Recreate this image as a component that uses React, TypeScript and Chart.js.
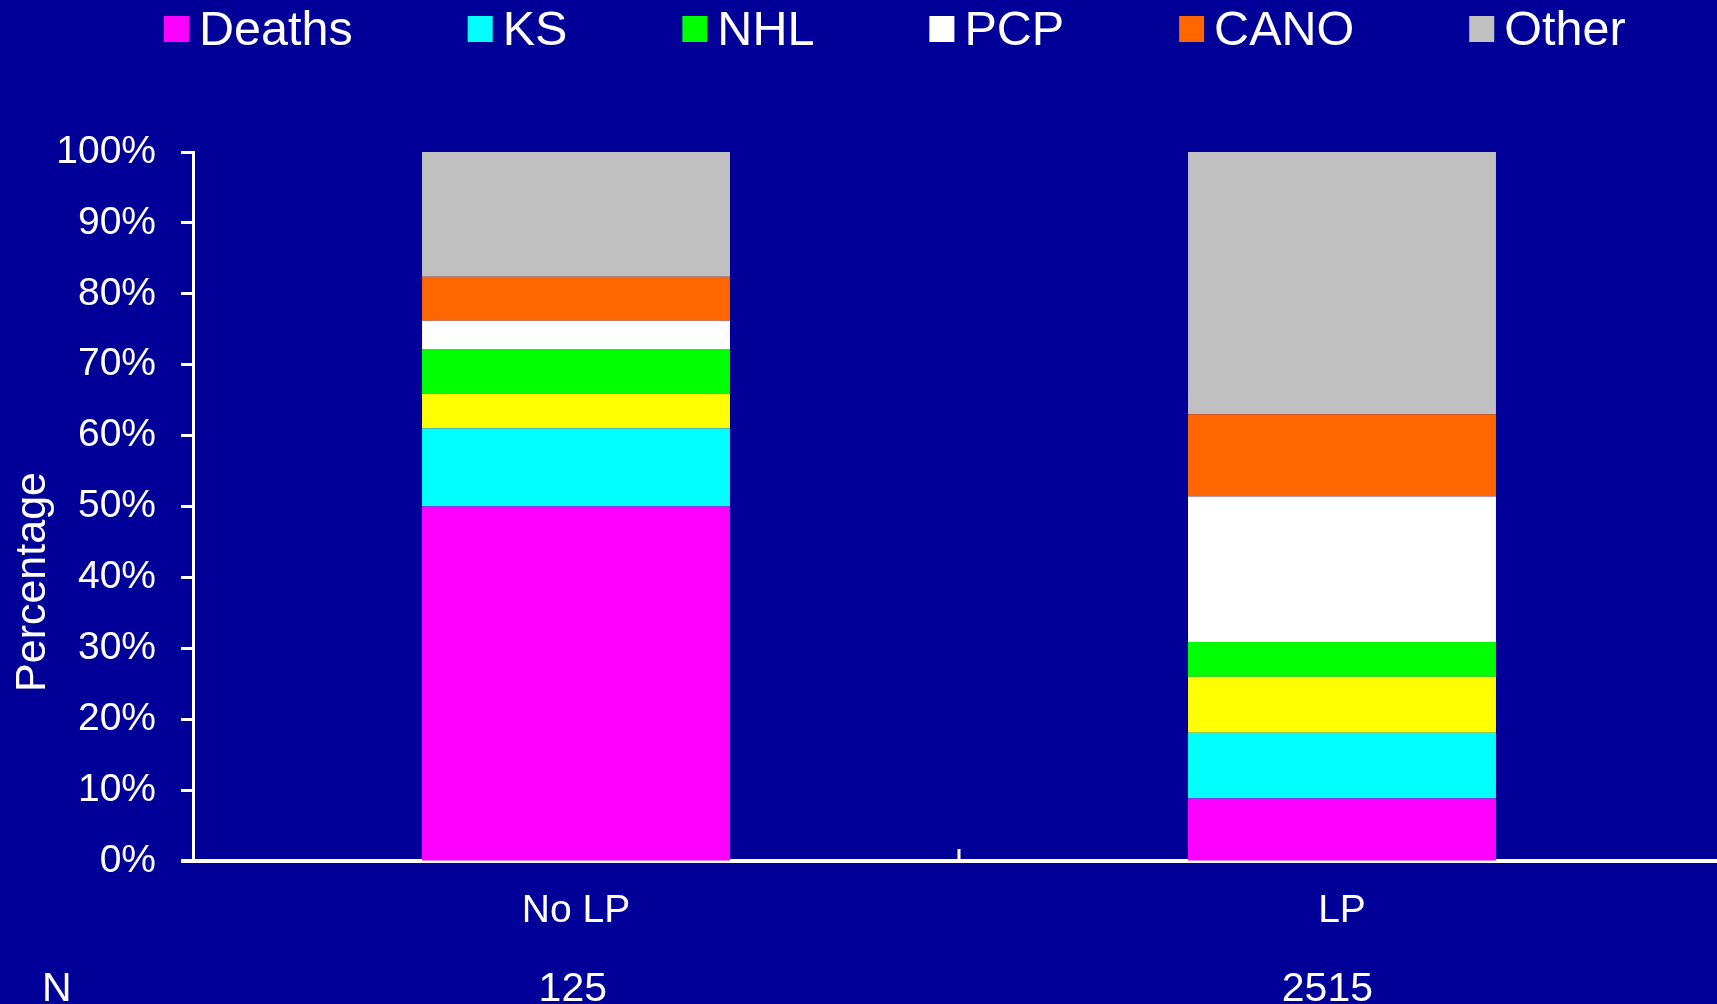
import React, { useEffect, useRef } from "react";
import { Chart, registerables } from "chart.js";

Chart.register(...registerables);

const FONT = '"Liberation Sans", Arial, Helvetica, sans-serif';

const categories = ["No LP", "LP"];
const counts = ["125", "2515"];
const countRowLabel = "N";
const yAxisTitle = "Percentage";

const deaths = [50.0, 8.8];
const ks = [11.0, 9.3];
const unlabelled = [4.9, 7.9];
const nhl = [6.3, 4.9];
const pcp = [4.0, 20.5];
const cano = [6.2, 11.6];
const other = [17.6, 37.0];

const yTickValues = [0, 10, 20, 30, 40, 50, 60, 70, 80, 90, 100];

const seriesLabels = ["Deaths", "KS", "", "NHL", "PCP", "CANO", "Other"];
const seriesColors = ["#FF00FF", "#00FFFF", "#FFFF00", "#00FF00", "#FFFFFF", "#FF6600", "#C0C0C0"];
const seriesValues = [deaths, ks, unlabelled, nhl, pcp, cano, other];

const decorations = {
  id: "decorations",
  afterDraw(chart: any) {
    const ctx = chart.ctx as CanvasRenderingContext2D;
    const xs = chart.scales.x;
    const ys = chart.scales.y;
    ctx.save();

    // legend (entries with a label only)
    ctx.font = `48.5px ${FONT}`;
    ctx.textBaseline = "alphabetic";
    ctx.textAlign = "left";
    let cx = 164;
    chart.data.datasets.forEach((ds: any) => {
      if (!ds.label) return;
      ctx.fillStyle = ds.backgroundColor;
      ctx.fillRect(cx, 16, 25, 26);
      ctx.fillStyle = "#FFFFFF";
      ctx.fillText(ds.label, cx + 35, 45);
      cx += 35 + ctx.measureText(ds.label).width + 115;
    });

    // y-axis title
    ctx.save();
    ctx.translate(33, 582);
    ctx.rotate(-Math.PI / 2);
    ctx.font = `43px ${FONT}`;
    ctx.textAlign = "center";
    ctx.textBaseline = "middle";
    ctx.fillStyle = "#FFFFFF";
    ctx.fillText(yAxisTitle, 0, 0);
    ctx.restore();

    // inner tick marks between categories
    ctx.strokeStyle = "#FFFFFF";
    ctx.lineWidth = 3;
    for (let i = 0; i < categories.length - 1; i++) {
      const xm = (xs.getPixelForValue(i) + xs.getPixelForValue(i + 1)) / 2;
      ctx.beginPath();
      ctx.moveTo(xm, ys.bottom - 12);
      ctx.lineTo(xm, ys.bottom);
      ctx.stroke();
    }
    // x axis extension to the left under the 0% tick
    ctx.lineWidth = 4;
    ctx.beginPath();
    ctx.moveTo(181, ys.bottom);
    ctx.lineTo(xs.left, ys.bottom);
    ctx.stroke();

    // N row
    ctx.font = `41px ${FONT}`;
    ctx.fillStyle = "#FFFFFF";
    ctx.textBaseline = "alphabetic";
    ctx.textAlign = "left";
    ctx.fillText(countRowLabel, 42, 1001);
    ctx.textAlign = "right";
    counts.forEach((c, i) => {
      ctx.fillText(c, xs.getPixelForValue(i) + 31, 1001);
    });
    ctx.restore();
  },
};

export default function App() {
  const ref = useRef<HTMLCanvasElement | null>(null);

  useEffect(() => {
    if (!ref.current) return;
    const chart = new Chart(ref.current, {
      type: "bar",
      data: {
        labels: categories,
        datasets: seriesValues.map((vals, i) => ({
          label: seriesLabels[i],
          data: vals,
          backgroundColor: seriesColors[i],
          borderWidth: 0,
          categoryPercentage: 1,
          barPercentage: 0.402,
        })),
      },
      options: {
        animation: false,
        responsive: false,
        devicePixelRatio: 1,
        layout: { padding: { top: 152, left: 0, right: 0, bottom: 0 } },
        plugins: {
          legend: { display: false },
          tooltip: { enabled: false },
          title: { display: false },
        },
        scales: {
          x: {
            stacked: true,
            grid: { display: false, drawTicks: false },
            border: { display: true, color: "#FFFFFF", width: 4 },
            ticks: {
              color: "#FFFFFF",
              padding: 27,
              font: { family: FONT, size: 39, lineHeight: 1.2 },
            },
            afterFit: (scale: any) => {
              scale.height = 143;
            },
          },
          y: {
            stacked: true,
            min: 0,
            max: 100,
            afterBuildTicks: (scale: any) => {
              scale.ticks = yTickValues.map((v) => ({ value: v }));
            },
            grid: {
              display: true,
              drawOnChartArea: false,
              drawTicks: true,
              tickLength: 12,
              tickWidth: 3,
              tickColor: "#FFFFFF",
              color: "#FFFFFF",
            },
            border: { display: true, color: "#FFFFFF", width: 3 },
            ticks: {
              color: "#FFFFFF",
              padding: 25,
              font: { family: FONT, size: 39 },
              callback: (v: any) => `${v}%`,
            },
            afterFit: (scale: any) => {
              scale.width = 193;
            },
          },
        },
      },
      plugins: [decorations],
    });
    return () => chart.destroy();
  }, []);

  return (
    <div
      style={{
        position: "fixed",
        left: 0,
        top: 0,
        width: 1717,
        height: 1004,
        overflow: "hidden",
        background: "#000099",
      }}
    >
      <canvas ref={ref} width={1725} height={1004} style={{ display: "block" }} />
    </div>
  );
}
